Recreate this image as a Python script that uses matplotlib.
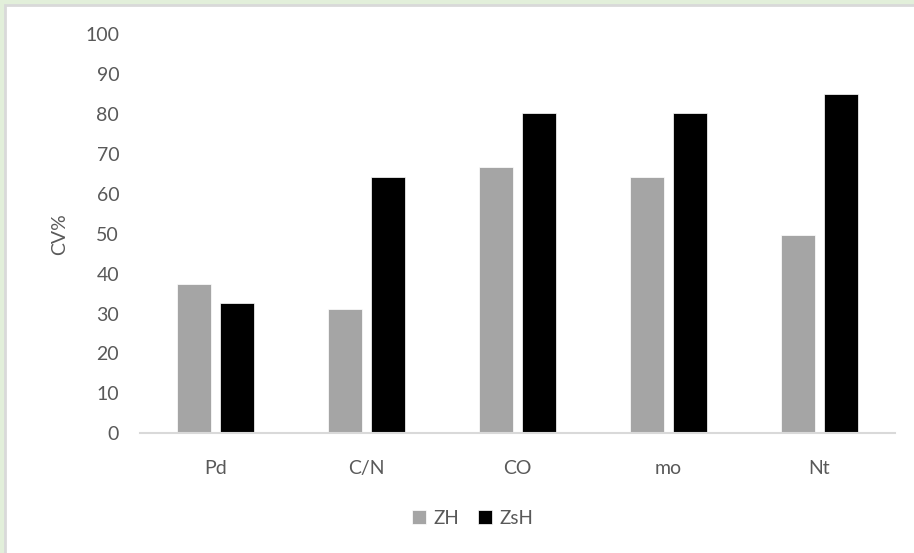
import matplotlib
matplotlib.use("Agg")
import matplotlib.pyplot as plt
import numpy as np
from matplotlib.patches import Rectangle

# data
categories = ['Pd', 'C/N', 'CO', 'mo', 'Nt']
zh = [37.4, 31.1, 66.7, 64.2, 49.6]
zsh = [32.6, 64.2, 80.2, 80.2, 85.0]

plt.rcParams['font.family'] = ['Lato', 'DejaVu Sans']
text_color = '#595959'

fig = plt.figure(figsize=(9.14, 5.53), dpi=100)
fig.patch.set_facecolor('#e2efda')

# white chart area with a thin gray frame (behind the axes)
fig.patches.append(Rectangle((5 / 914, -0.01), 1.0, 1 - 5 / 553 + 0.01,
                             transform=fig.transFigure, facecolor='white',
                             edgecolor='#d9d9d9', linewidth=2, zorder=-10))

ax = fig.add_axes([140 / 914, 1 - 433.3 / 553, 755 / 914, 399.3 / 553])
ax.set_facecolor('none')

x = np.arange(len(categories))
w = 0.228
off = 0.143
ax.bar(x - off, zh, w, color='#a5a5a5', label='ZH', edgecolor='white', linewidth=0.5)
ax.bar(x + off, zsh, w, color='black', label='ZsH', edgecolor='white', linewidth=0.5)

ax.set_xlim(-0.5, len(categories) - 0.5)
ax.set_ylim(0, 100)
ax.set_yticks(range(0, 101, 10))
ax.set_xticks(x)
ax.set_xticklabels(categories)

for s in ['top', 'right', 'left']:
    ax.spines[s].set_visible(False)
ax.spines['bottom'].set_color('#d9d9d9')
ax.spines['bottom'].set_linewidth(1.5)

ax.tick_params(axis='both', length=0, labelsize=14, colors=text_color)
ax.tick_params(axis='y', pad=15)
ax.tick_params(axis='x', pad=19)

ax.set_ylabel('CV%', fontsize=14, color=text_color, labelpad=12)

fig.legend(loc='center', bbox_to_anchor=(0.517, 1 - 518 / 553), ncol=2,
           frameon=False, fontsize=13.5, labelcolor=text_color,
           handlelength=0.75, handleheight=0.75, handletextpad=0.4,
           columnspacing=1.0)

fig.savefig('out.png', dpi=100, facecolor=fig.get_facecolor())
